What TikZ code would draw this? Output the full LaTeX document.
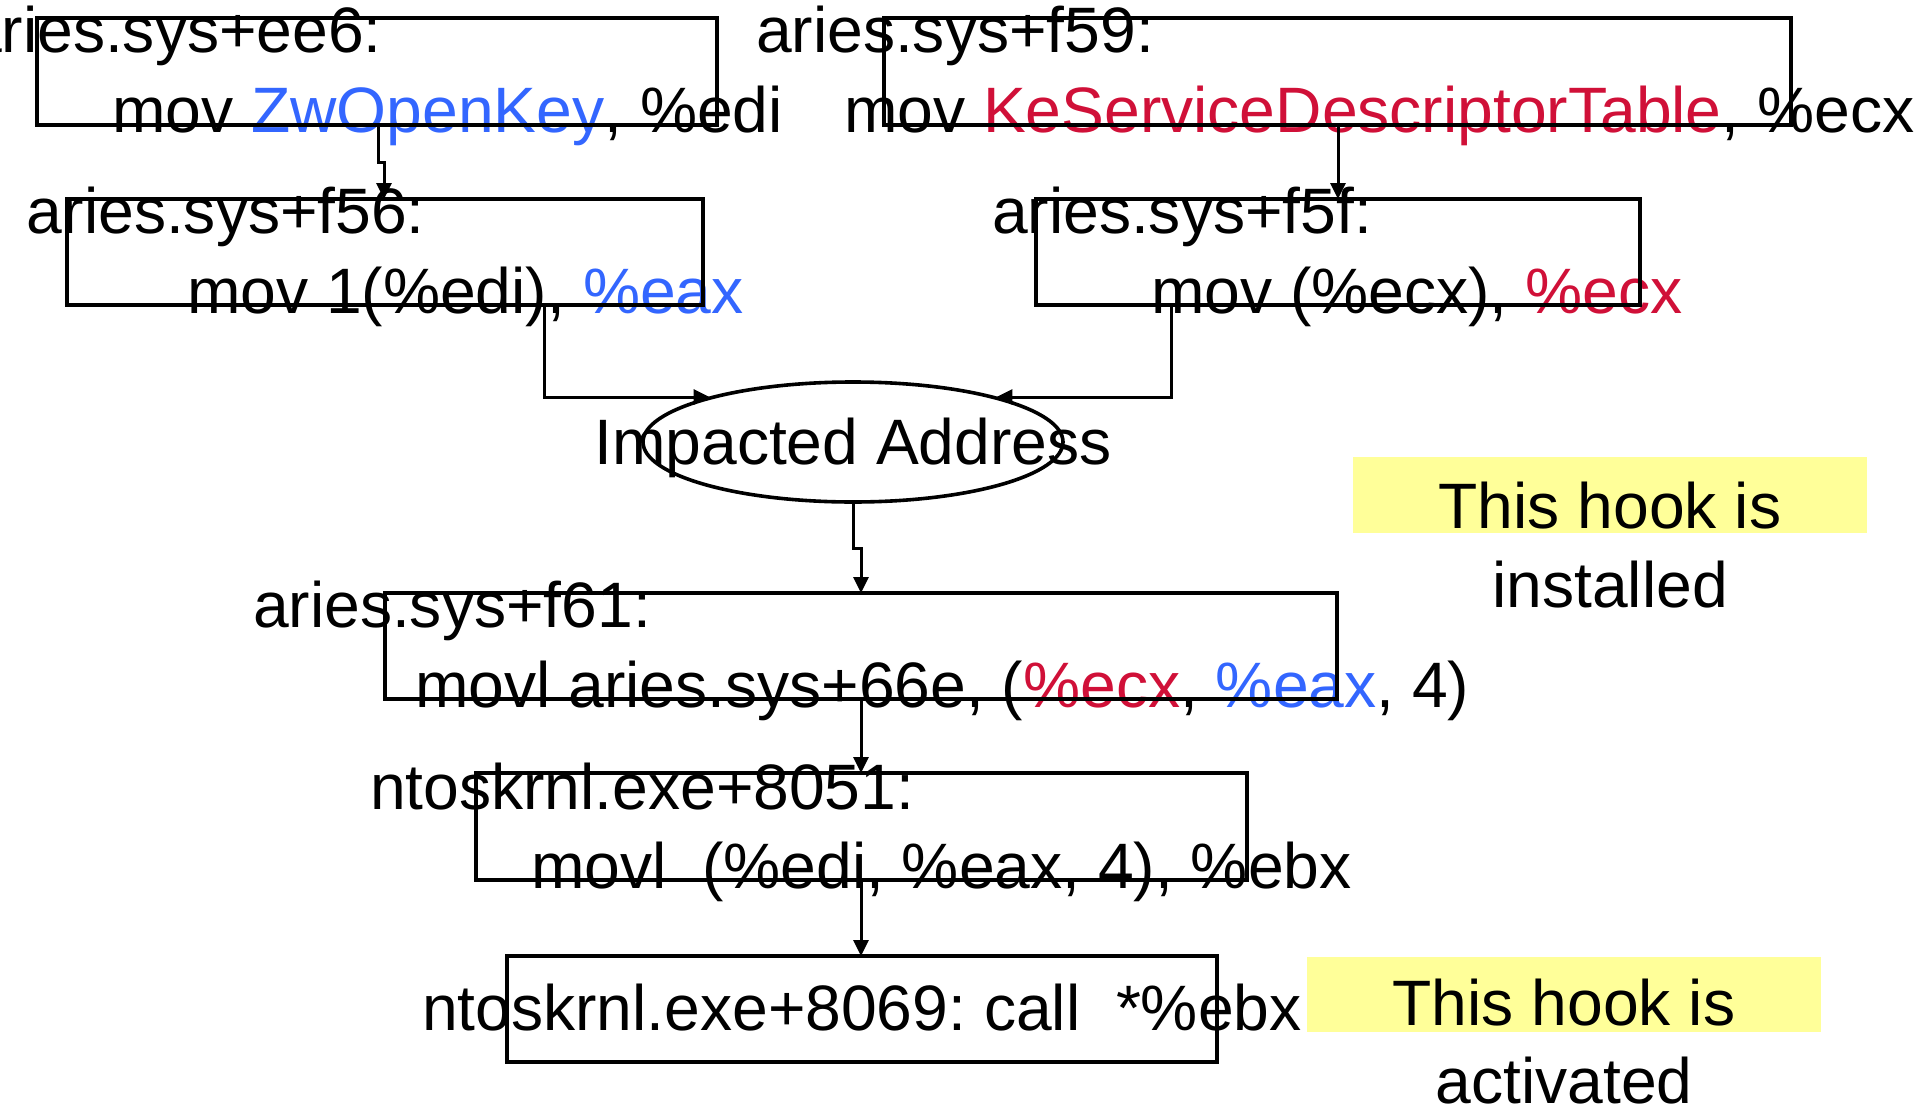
\documentclass[tikz,border=0pt]{standalone}
\usepackage{fontspec}
\setmainfont{Liberation Sans}
\usetikzlibrary{arrows.meta,shapes.geometric}
\definecolor{regblue}{RGB}{51,102,255}
\definecolor{regred}{RGB}{208,16,56}
\definecolor{notebg}{RGB}{255,255,153}

\begin{document}
\begin{tikzpicture}[x=1pt,y=-1pt,
  txt/.style={inner sep=0pt, outer sep=0pt, anchor=base west,
              font=\fontsize{64.2}{79}\selectfont\frenchspacing},
  ctxt/.style={txt, anchor=base},
  codebox/.style={draw, line width=3.4pt, inner sep=0pt, outer sep=0pt,
                  anchor=north west},
  addr/.style={draw, ellipse, line width=3.6pt, inner sep=0pt, outer sep=0pt,
               minimum width=420pt, minimum height=120pt},
  note/.style={fill=notebg, inner sep=0pt, outer sep=0pt, anchor=north west},
  conn/.style={line width=3pt, -{Triangle[length=16pt,width=15pt]}},
]
\useasboundingbox (0,0) rectangle (1920,1108);

% highlighted notes (behind their text)
\node[note, minimum width=514pt, minimum height=76pt] (note1) at (1353,457) {};
\node[note, minimum width=514pt, minimum height=75pt] (note2) at (1307,957) {};

% instruction texts
\node[txt] (t1a) at (-34,53)  {aries.sys+ee6:};
\node[txt] (t1b) at (112,132) {mov \textcolor{regblue}{ZwOpenKey}, \%edi};
\node[txt] (t2a) at (756,53)  {aries.sys+f59:};
\node[txt] (t2b) at (844,132) {mov \textcolor{regred}{KeServiceDescriptorTable}, \%ecx};
\node[txt] (t3a) at (27,233)  {aries.sys+f56:};
\node[txt] (t3b) at (187,313) {mov 1(\%edi), \textcolor{regblue}{\%eax}};
\node[txt] (t4a) at (992,233) {aries.sys+f5f:};
\node[txt] (t4b) at (1151,313) {mov (\%ecx), \textcolor{regred}{\%ecx}};
\node[ctxt] (timp) at (853,464) {Impacted Address};
\node[txt] (t5a) at (253,627) {aries.sys+f61:};
\node[txt] (t5b) at (415,707) {movl aries.sys+66e, (\textcolor{regred}{\%ecx}, \textcolor{regblue}{\%eax}, 4)};
\node[txt] (t6a) at (370,809) {ntoskrnl.exe+8051:};
\node[txt] (t6b) at (531,888) {movl\ \ (\%edi, \%eax, 4), \%ebx};
\node[txt] (t7)  at (422,1030) {ntoskrnl.exe+8069: call\ \ *\%ebx};

% note texts
\node[ctxt] (n1a) at (1610,528)  {This hook is};
\node[ctxt] (n1b) at (1610,607)  {installed};
\node[ctxt] (n2a) at (1564,1025) {This hook is};
\node[ctxt] (n2b) at (1564,1103) {activated};

% instruction boxes
\node[codebox, minimum width=680pt, minimum height=107pt] (ee6)  at (37,18)   {};
\node[codebox, minimum width=907pt, minimum height=107pt] (f59)  at (884,18)  {};
\node[codebox, minimum width=636pt, minimum height=106pt] (f56)  at (67,199)  {};
\node[codebox, minimum width=604pt, minimum height=106pt] (f5f)  at (1036,199) {};
\node[addr] (imp) at (853,442) {};
\node[codebox, minimum width=952pt, minimum height=106pt] (f61)  at (385,593) {};
\node[codebox, minimum width=771pt, minimum height=107pt] (k8051) at (476,773) {};
\node[codebox, minimum width=710pt, minimum height=106pt] (k8069) at (507,956) {};

% bend points of the connectors
\coordinate (j1a) at (378,162);
\coordinate (j1b) at (384,162);
\coordinate (c2)  at (1338,0);
\coordinate (k1)  at (544,397);
\coordinate (k2)  at (1171,397);
\coordinate (j3a) at (853,548);
\coordinate (j3b) at (861,548);

% data flow
\draw[conn] (ee6.south -| j1a) -- (j1a) -- (j1b) -- (f56.north -| j1b);
\draw[conn] (f59.south -| c2) -- (f5f.north -| c2);
\draw[conn] (f56.south -| k1) -- (k1) -- (k1 -| imp.163);
\draw[conn] (f5f.south -| k2) -- (k2) -- (k2 -| imp.17);
\draw[conn] (imp.south) -- (j3a) -- (j3b) -- (f61.north -| j3b);
\draw[conn] (f61.south -| j3b) -- (k8051.north -| j3b);
\draw[conn] (k8051.south -| j3b) -- (k8069.north -| j3b);
\end{tikzpicture}
\end{document}
